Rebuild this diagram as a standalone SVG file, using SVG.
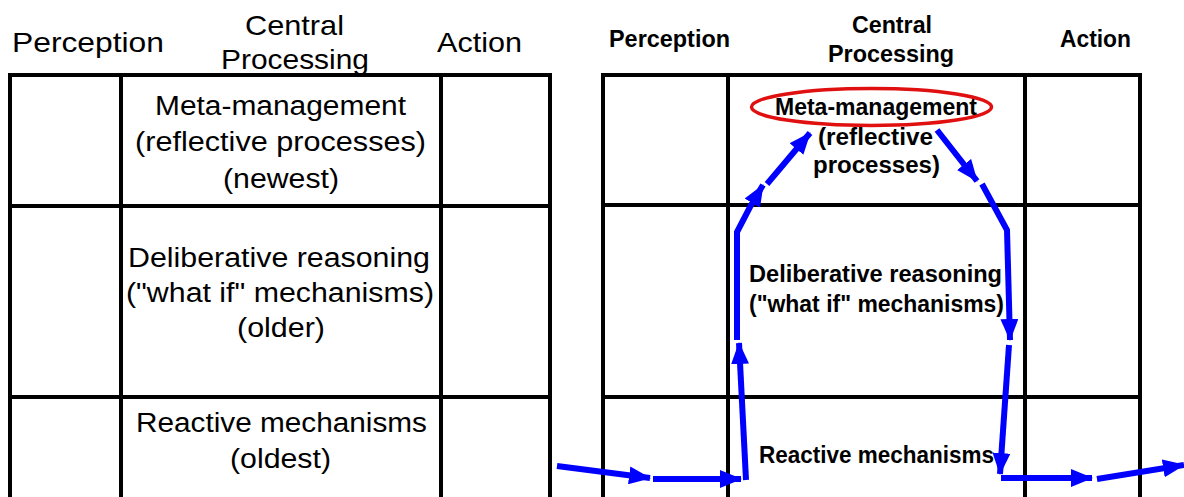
<svg xmlns="http://www.w3.org/2000/svg" width="1184" height="497" viewBox="0 0 1184 497">
<style>
.grid{stroke:#000;stroke-width:4;fill:none}
.reg{font-family:"Liberation Sans",Arial,sans-serif;font-size:27px;fill:#000}
.hdr{font-family:"Liberation Sans",Arial,sans-serif;font-size:28px;fill:#000}
.bld{font-family:"Liberation Sans",Arial,sans-serif;font-size:23px;font-weight:bold;fill:#000}
.arr{stroke:#0000ff;stroke-width:6;fill:none;stroke-linejoin:miter;marker-end:url(#ah)}
</style>
<defs>
<marker id="ah" markerUnits="userSpaceOnUse" markerWidth="22" markerHeight="18" refX="21" refY="9" orient="auto">
<path d="M0,0 L22,9 L0,18 z" fill="#0000ff"/>
</marker>
</defs>
<rect width="1184" height="497" fill="#fff"/>

<!-- Left grid -->
<g id="left-grid">
<path class="grid" d="M10,499 V75 H550 V499 M121,75 V499 M441,75 V499 M10,206 H550 M10,397 H550"/>
</g>
<g id="left-header-perception"><text class="hdr" x="12" y="52" textLength="152" lengthAdjust="spacingAndGlyphs">Perception</text></g>
<g id="left-header-central">
<text class="hdr" x="245" y="35" textLength="99" lengthAdjust="spacingAndGlyphs">Central</text>
<text class="hdr" x="221" y="69" textLength="148" lengthAdjust="spacingAndGlyphs">Processing</text>
</g>
<g id="left-header-action"><text class="hdr" x="437" y="52" textLength="85" lengthAdjust="spacingAndGlyphs">Action</text></g>
<g id="left-meta">
<text class="reg" x="155" y="115" textLength="251" lengthAdjust="spacingAndGlyphs">Meta-management</text>
<text class="reg" x="135" y="151" textLength="291" lengthAdjust="spacingAndGlyphs">(reflective processes)</text>
<text class="reg" x="223" y="188" textLength="116" lengthAdjust="spacingAndGlyphs">(newest)</text>
</g>
<g id="left-deliberative">
<text class="reg" x="128" y="267" textLength="302" lengthAdjust="spacingAndGlyphs">Deliberative reasoning</text>
<text class="reg" x="126" y="302" textLength="308" lengthAdjust="spacingAndGlyphs">("what if" mechanisms)</text>
<text class="reg" x="237" y="337" textLength="88" lengthAdjust="spacingAndGlyphs">(older)</text>
</g>
<g id="left-reactive">
<text class="reg" x="136" y="432" textLength="291" lengthAdjust="spacingAndGlyphs">Reactive mechanisms</text>
<text class="reg" x="230" y="468" textLength="101" lengthAdjust="spacingAndGlyphs">(oldest)</text>
</g>

<!-- Right grid -->
<g id="right-grid">
<path class="grid" d="M603,499 V75 H1140 V499 M728,75 V499 M1025,75 V499 M603,205 H1140 M603,397 H1140"/>
</g>
<g id="right-header-perception"><text class="bld" x="609" y="47" textLength="121" lengthAdjust="spacingAndGlyphs">Perception</text></g>
<g id="right-header-central">
<text class="bld" x="852" y="33" textLength="80" lengthAdjust="spacingAndGlyphs">Central</text>
<text class="bld" x="828" y="62" textLength="126" lengthAdjust="spacingAndGlyphs">Processing</text>
</g>
<g id="right-header-action"><text class="bld" x="1060" y="47" textLength="71" lengthAdjust="spacingAndGlyphs">Action</text></g>
<g id="right-meta">
<ellipse cx="871.5" cy="107" rx="120" ry="18.5" fill="none" stroke="#e01010" stroke-width="3.5"/>
<text class="bld" x="775" y="115" textLength="202" lengthAdjust="spacingAndGlyphs">Meta-management</text>
<text class="bld" x="818" y="145" textLength="115" lengthAdjust="spacingAndGlyphs">(reflective</text>
<text class="bld" x="813" y="173" textLength="127" lengthAdjust="spacingAndGlyphs">processes)</text>
</g>
<g id="right-deliberative">
<text class="bld" x="749" y="282" textLength="253" lengthAdjust="spacingAndGlyphs">Deliberative reasoning</text>
<text class="bld" x="749" y="312" textLength="255" lengthAdjust="spacingAndGlyphs">("what if" mechanisms)</text>
</g>
<g id="right-reactive">
<text class="bld" x="759" y="463" textLength="235" lengthAdjust="spacingAndGlyphs">Reactive mechanisms</text>
</g>

<!-- Connectors -->
<g id="connectors">
<path class="arr" d="M557,466 L650,478"/>
<path class="arr" d="M653,479 L741,479"/>
<path class="arr" d="M746,480 L739,343"/>
<path class="arr" d="M737,340 L737,232 L750,207 L763,185"/>
<path class="arr" d="M767,184 L810,133"/>
<path class="arr" d="M937,130 L977,181"/>
<path class="arr" d="M982,184 L1007,230 L1010,340"/>
<path class="arr" d="M1009,345 L1000,474"/>
<path class="arr" d="M1001,478 L1092,478"/>
<path class="arr" d="M1097,479 L1184,465"/>
</g>
</svg>
